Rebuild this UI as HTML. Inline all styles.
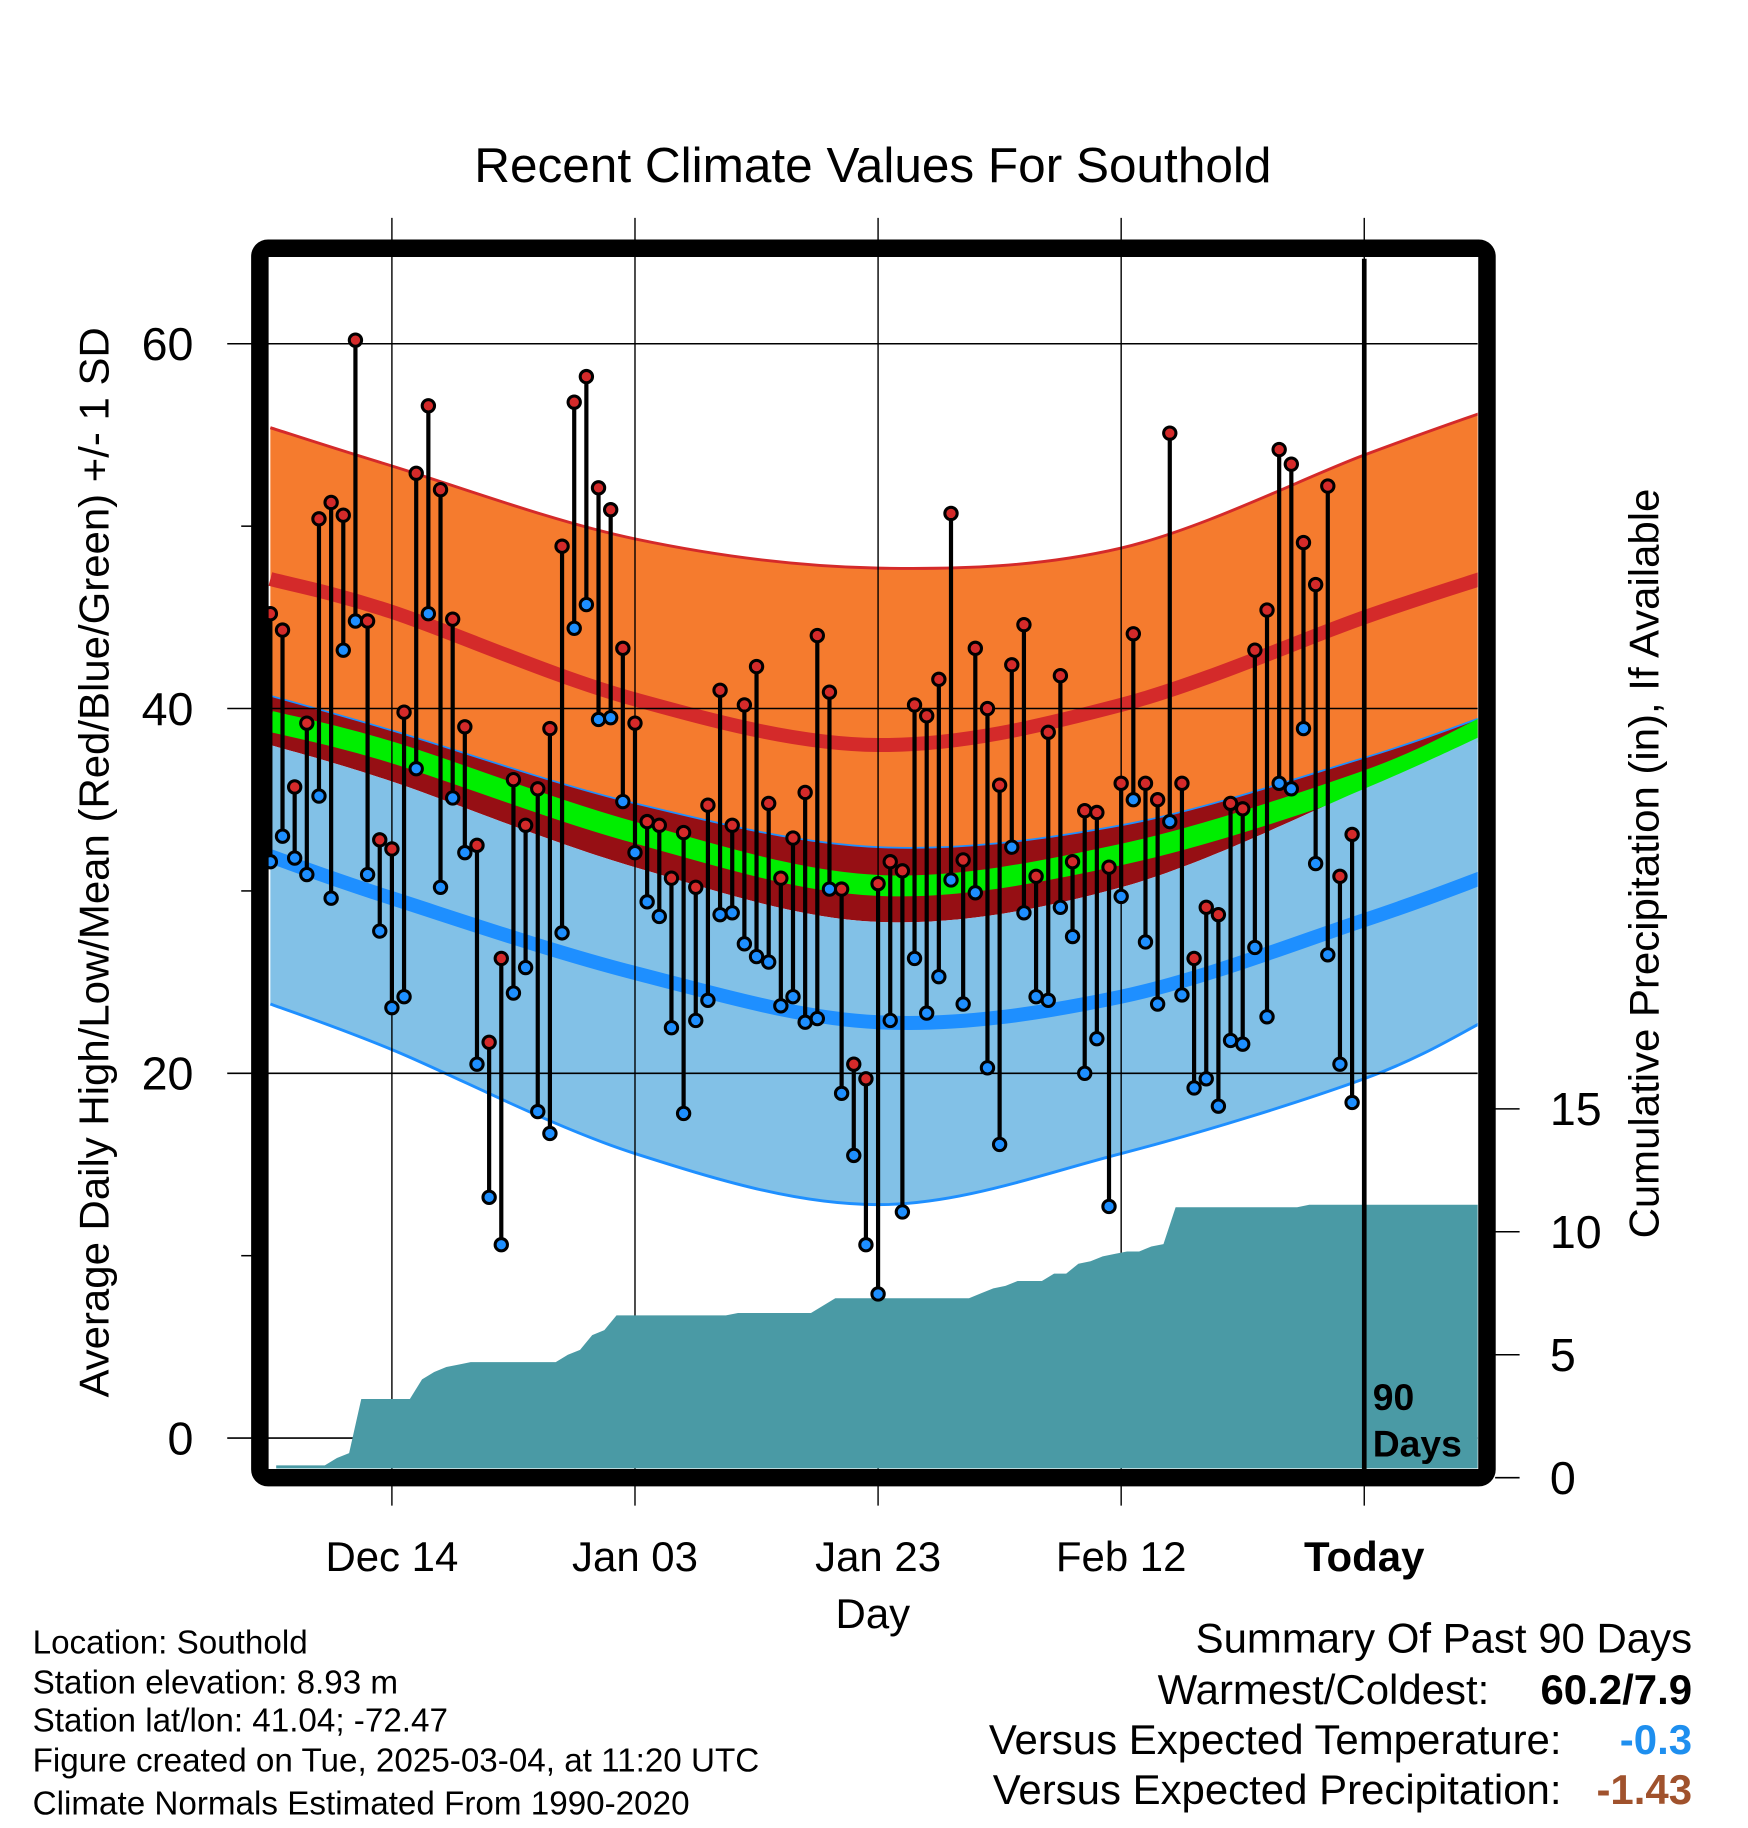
<!DOCTYPE html>
<html><head><meta charset="utf-8"><style>
html,body{margin:0;padding:0;background:#fff}
svg{display:block}
text{font-family:"Liberation Sans",Arial,sans-serif}
</style></head><body>
<svg id="chart" width="1748" height="1828" viewBox="0 0 1500 1568.6" preserveAspectRatio="none" xmlns="http://www.w3.org/2000/svg">
<defs><clipPath id="plotclip"><rect x="230" y="222" width="1038" height="1038"/></clipPath></defs>
<text x="749" y="156" font-size="42.5" text-anchor="middle">Recent Climate Values For Southold</text>
<g id="bands" clip-path="url(#plotclip)"></g>
<g id="grid"></g>
<g id="precip" clip-path="url(#plotclip)"></g>
<g id="marks"></g>
<rect x="223" y="213" width="1053" height="1055" rx="7" fill="none" stroke="#000" stroke-width="15"/>
<g id="axes"></g>
<text x="1178" y="1210" font-size="32" font-weight="bold">90</text>
<text x="1178" y="1250" font-size="32" font-weight="bold">Days</text>
<text x="749" y="1397" font-size="36" text-anchor="middle">Day</text>
<text transform="translate(93,740) rotate(-90)" font-size="36" text-anchor="middle">Average Daily High/Low/Mean (Red/Blue/Green) +/- 1 SD</text>
<text transform="translate(1423,741) rotate(-90)" font-size="36" text-anchor="middle">Cumulative Precipitation (in), If Available</text>
<g font-size="28.5">
<text x="28" y="1419">Location: Southold</text>
<text x="28" y="1453">Station elevation: 8.93 m</text>
<text x="28" y="1486">Station lat/lon: 41.04; -72.47</text>
<text x="28" y="1520">Figure created on Tue, 2025-03-04, at 11:20 UTC</text>
<text x="28" y="1557">Climate Normals Estimated From 1990-2020</text>
</g>
<g font-size="36">
<text x="1452" y="1418" text-anchor="end">Summary Of Past 90 Days</text>
<text x="1278" y="1462" text-anchor="end">Warmest/Coldest:</text>
<text x="1452" y="1462" text-anchor="end" font-weight="bold">60.2/7.9</text>
<text x="1340" y="1505" text-anchor="end">Versus Expected Temperature:</text>
<text x="1452" y="1505" text-anchor="end" font-weight="bold" fill="#1e8fef">-0.3</text>
<text x="1340" y="1548" text-anchor="end">Versus Expected Precipitation:</text>
<text x="1452" y="1548" text-anchor="end" font-weight="bold" fill="#a0522d">-1.43</text>
</g>
</svg>
<script>
// ---- data ----
const normalDays = [0,10,30,50,70,90,100];
const highUpper = [55.4,53.3,49.3,47.7,48.8,53.9,56.3];
const highMean  = [47.1,45.3,40.5,38.0,40.2,45.0,47.2];
const highLower = [40.7,38.8,34.8,32.4,33.6,37.3,39.6];
const meanTemp  = [39.3,37.6,33.2,30.3,32.0,36.0,39.0];
const lowUpper  = [38.0,36.0,31.3,28.3,30.2,35.6,38.6];
const lowMean   = [31.9,29.6,25.5,22.8,24.2,28.4,30.8];
const lowLower  = [23.8,21.3,15.6,12.8,15.6,19.7,22.9];
const highs = [45.2,44.3,35.7,39.2,50.4,51.3,50.6,60.2,44.8,32.8,32.3,39.8,52.9,56.6,52.0,44.9,39.0,32.5,21.7,26.3,36.1,33.6,35.6,38.9,48.9,56.8,58.2,52.1,50.9,43.3,39.2,33.8,33.6,30.7,33.2,30.2,34.7,41.0,33.6,40.2,42.3,34.8,30.7,32.9,35.4,44.0,40.9,30.1,20.5,19.7,30.4,31.6,31.1,40.2,39.6,41.6,50.7,31.7,43.3,40.0,35.8,42.4,44.6,30.8,38.7,41.8,31.6,34.4,34.3,31.3,35.9,44.1,35.9,35.0,55.1,35.9,26.3,29.1,28.7,34.8,34.5,43.2,45.4,54.2,53.4,49.1,46.8,52.2,30.8,33.1];
const lows = [31.6,33.0,31.8,30.9,35.2,29.6,43.2,44.8,30.9,27.8,23.6,24.2,36.7,45.2,30.2,35.1,32.1,20.5,13.2,10.6,24.4,25.8,17.9,16.7,27.7,44.4,45.7,39.4,39.5,34.9,32.1,29.4,28.6,22.5,17.8,22.9,24.0,28.7,28.8,27.1,26.4,26.1,23.7,24.2,22.8,23.0,30.1,18.9,15.5,10.6,7.9,22.9,12.4,26.3,23.3,25.3,30.6,23.8,29.9,20.3,16.1,32.4,28.8,24.2,24.0,29.1,27.5,20.0,21.9,12.7,29.7,35.0,27.2,23.8,33.8,24.3,19.2,19.7,18.2,21.8,21.6,26.9,23.1,35.9,35.6,38.9,31.5,26.5,20.5,18.4];
const precipCum = [0.5,0.5,0.5,0.5,0.5,0.8,1.0,3.2,3.2,3.2,3.2,3.2,4.0,4.3,4.5,4.6,4.7,4.7,4.7,4.7,4.7,4.7,4.7,4.7,5.0,5.2,5.8,6.0,6.6,6.6,6.6,6.6,6.6,6.6,6.6,6.6,6.6,6.6,6.7,6.7,6.7,6.7,6.7,6.7,6.7,7.0,7.3,7.3,7.3,7.3,7.3,7.3,7.3,7.3,7.3,7.3,7.3,7.3,7.5,7.7,7.8,8.0,8.0,8.0,8.3,8.3,8.7,8.8,9.0,9.1,9.2,9.2,9.4,9.5,11.0,11.0,11.0,11.0,11.0,11.0,11.0,11.0,11.0,11.0,11.0,11.1,11.1,11.1,11.1,11.1];
const yTicks = [0,20,40,60];
const yMinor = [10,30,50];
const y2Ticks = [0,5,10,15];
const xTickDays = [10,30,50,70,90];
const xTickLabels = ["Dec 14","Jan 03","Jan 23","Feb 12","Today"];

// ---- scales ----
const X = d => 232 + d*10.43;
const Y = t => 1234 - t*15.65;
const Y2 = p => 1268 - p*21.1;
const NS = "http://www.w3.org/2000/svg";
function mk(tag, attrs, parent){const e=document.createElementNS(NS,tag);for(const k in attrs)e.setAttribute(k,attrs[k]);parent.appendChild(e);return e;}

function pts(arr){return normalDays.map((d,i)=>[X(d),Y(arr[i])]);}
function smooth(p){
  let s=`M${p[0][0]},${p[0][1]}`;
  for(let i=0;i<p.length-1;i++){
    const p0=p[i-1]||p[i],p1=p[i],p2=p[i+1],p3=p[i+2]||p[i+1];
    const c1=[p1[0]+(p2[0]-p0[0])/6,p1[1]+(p2[1]-p0[1])/6];
    const c2=[p2[0]-(p3[0]-p1[0])/6,p2[1]-(p3[1]-p1[1])/6];
    s+=` C${c1[0]},${c1[1]} ${c2[0]},${c2[1]} ${p2[0]},${p2[1]}`;
  }
  return s;
}
function bandPath(up,lo){
  const a=smooth(pts(up));
  const b=smooth(pts(lo).reverse()).replace(/^M/,'L');
  return a+' '+b+' Z';
}
const bands=document.getElementById('bands');
let e;
e=mk('path',{d:bandPath(highUpper,highLower),fill:'#f57b2e'},bands);


e=mk('path',{d:smooth(pts(highUpper)),fill:'none',stroke:'#d42a2a','stroke-width':2.5},bands);


e=mk('path',{d:bandPath(highLower,lowUpper),fill:'#960f14'},bands);


e=mk('path',{d:smooth(pts(highLower)),fill:'none',stroke:'#1e8fff','stroke-width':1.5},bands);


e=mk('path',{d:smooth(pts(meanTemp)),fill:'none',stroke:'#00ee00','stroke-width':18},bands);


e=mk('path',{d:bandPath(lowUpper,lowLower),fill:'#82c1e7'},bands);


e=mk('path',{d:smooth(pts(lowLower)),fill:'none',stroke:'#1e8fff','stroke-width':2.5},bands);


e=mk('path',{d:smooth(pts(highMean)),fill:'none',stroke:'#d42a2a','stroke-width':12},bands);


e=mk('path',{d:smooth(pts(lowMean)),fill:'none',stroke:'#1e8fff','stroke-width':12},bands);



// grid
const grid=document.getElementById('grid');
yTicks.forEach(t=>{
  const l=mk('line',{x1:195,x2:1268,y1:Y(t),y2:Y(t),stroke:'#000','stroke-width':1.3},grid);
  
  
});
yMinor.forEach(t=>{
  const l=mk('line',{x1:207,x2:216,y1:Y(t),y2:Y(t),stroke:'#000','stroke-width':1.3},grid);
  
  
});
xTickDays.forEach(d=>{
  const l=mk('line',{x1:X(d),x2:X(d),y1:187,y2:1292,stroke:'#000','stroke-width':1.2},grid);
  
  
});

// precip
const pg=document.getElementById('precip');
let pd=`M${X(0)+5},1262`;
precipCum.forEach((p,i)=>{pd+=` L${X(i)+5},${Y2(p)}`;});
pd+=` L1270,${Y2(precipCum[precipCum.length-1])} L1270,1262 Z`;
e=mk('path',{d:pd,fill:'#4a9aa5'},pg);



// marks
const mg=document.getElementById('marks');
highs.forEach((h,i)=>{
  const s=mk('line',{x1:X(i),x2:X(i),y1:Y(h),y2:Y(lows[i]),stroke:'#000','stroke-width':3.6},mg);
  
  
});
lows.forEach((l,i)=>{
  const c=mk('circle',{cx:X(i),cy:Y(l),r:5.3,fill:'#1e8fff',stroke:'#000','stroke-width':2.6},mg);
  
  
});
highs.forEach((h,i)=>{
  const c=mk('circle',{cx:X(i),cy:Y(h),r:5.3,fill:'#d42a2a',stroke:'#000','stroke-width':2.6},mg);
  
  
});
e=mk('line',{x1:X(90),x2:X(90),y1:222,y2:1262,stroke:'#000','stroke-width':4},mg);



// axes labels
const ax=document.getElementById('axes');
yTicks.forEach(t=>{
  const tx=mk('text',{x:166,y:Y(t)+14,'font-size':40,'text-anchor':'end'},ax);
  tx.textContent=String(t);
  
  
});
y2Ticks.forEach(p=>{
  const l=mk('line',{x1:1283,x2:1304,y1:Y2(p),y2:Y2(p),stroke:'#000','stroke-width':1.3},ax);
  
  
  const tx=mk('text',{x:1330,y:Y2(p)+14,'font-size':40},ax);
  tx.textContent=String(p);
  
  
});
xTickDays.forEach((d,i)=>{
  const tx=mk('text',{x:X(d),y:1348,'font-size':36,'text-anchor':'middle'},ax);
  if(xTickLabels[i]==='Today') tx.setAttribute('font-weight','bold');
  tx.textContent=xTickLabels[i];
  
  
});
</script>
</body></html>
